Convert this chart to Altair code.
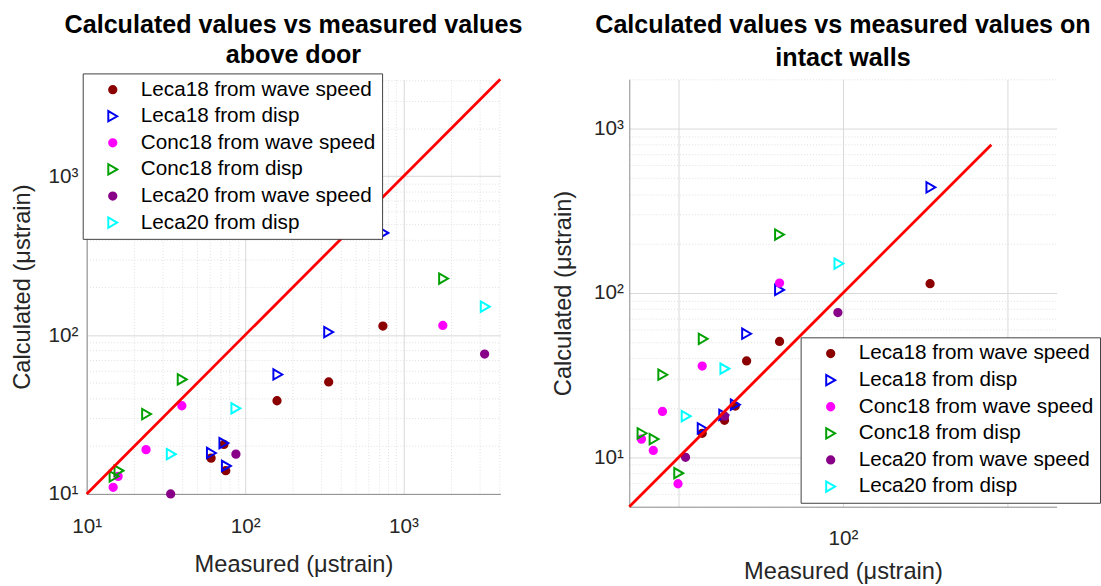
import altair as alt
import pandas as pd

FONT = "Liberation Sans"
TEXT = "#262626"

SERIES = ["Leca18 from wave speed", "Leca18 from disp", "Conc18 from wave speed",
          "Conc18 from disp", "Leca20 from wave speed", "Leca20 from disp"]
STROKES = ["#8B0000", "#0000F0", "#FF00FF", "#00A000", "#880088", "#00FFFF"]
FILLS = ["#8B0000", "transparent", "#FF00FF", "transparent", "#880088", "transparent"]
SHAPES = ["circle", "triangle-right", "circle", "triangle-right", "circle", "triangle-right"]
SIZES = [55, 110, 55, 110, 55, 110]

# Calculated strain (same in both panels)
calc_leca18_wave = [114, 50.7, 38.6, 16.8, 20.5, 14.0]
calc_leca18_disp = [440, 104.5, 56.5, 18.1, 20.9, 15.0]
calc_conc18_wave = [115, 35.9, 19.0, 11.0, 12.9, 6.9]
calc_conc18_disp = [227, 52.6, 31.8, 14.0, 12.9, 8.0]
calc_leca20_wave = [76, 17.8, 10.0]
calc_leca20_disp = [151, 34.6, 17.8]

# Measured strain above door (left panel; last Conc18 points lie below the view)
door_leca18_wave = [741, 337, 159, 61.0, 73.5, 75.5]
door_leca18_disp = [751, 337, 161, 61.3, 73.5, 76.2]
door_conc18_wave = [1770, 39.9, 23.7, 14.7, 15.8]
door_conc18_disp = [1791, 40.1, 23.9, 16.0, 14.9]
door_leca20_wave = [3250, 87.5, 33.9]
door_leca20_disp = [3280, 87.5, 34.2]

# Measured strain on intact walls (right panel)
walls_leca18_wave = [339, 41.1, 25.9, 19.0, 22.1, 13.9]
walls_leca18_disp = [343, 41.1, 25.9, 18.8, 22.1, 13.9]
walls_conc18_wave = [41.1, 13.9, 7.96, 7.0, 5.93, 9.9]
walls_conc18_disp = [41.1, 14.1, 8.0, 5.98, 7.08, 10.0]
walls_leca20_wave = [93.1, 19.0, 11.0]
walls_leca20_disp = [94.5, 19.1, 11.1]

ref_line_door = [10, 4080]
ref_line_walls = [5, 800]

domain_door = [10, 4080]
domain_walls = [5, 2000]

major_ticks = [10, 100, 1000]
minor_ticks = [k * 10 ** e for e in range(0, 4) for k in range(2, 10)]

CALC = [calc_leca18_wave, calc_leca18_disp, calc_conc18_wave,
        calc_conc18_disp, calc_leca20_wave, calc_leca20_disp]


def frame(xs_list):
    rows = []
    for name, xs, ys in zip(SERIES, xs_list, CALC):
        for x, y in zip(xs, ys):
            rows.append({"series": name, "measured": x, "calculated": y})
    return pd.DataFrame(rows)


SUP = {10: "10¹", 100: "10²", 1000: "10³"}
MAJOR_TEST = "indexof([10,100,1000], datum.value) >= 0"


def axis(title, dom, minor, labeled, label_pad, title_pad):
    vals = [v for v in major_ticks + (minor_ticks if minor else []) if dom[0] <= v <= dom[1]]
    expr = " : ".join(f"datum.value == {v} ? '{SUP[v]}'" for v in labeled) + " : ''"
    return alt.Axis(
        title=title, values=vals, labelExpr=expr, labelOverlap=False, labelFlush=False,
        grid=True, ticks=False,
        gridDash={"condition": {"test": MAJOR_TEST, "value": []}, "value": [1, 2]},
        gridColor={"condition": {"test": MAJOR_TEST, "value": "#d8d8d8"}, "value": "#e0e0e0"},
        labelPadding=label_pad, titlePadding=title_pad,
    )


def legend(x, y):
    return alt.Legend(
        title=None, orient="none", legendX=x, legendY=y,
        labelFont=FONT, labelFontSize=21, labelColor="#000000", labelLimit=0,
        symbolStrokeWidth=2, padding=6, rowPadding=5,
        strokeColor="#404040", fillColor="white",
        symbolOffset=14, labelOffset=18,
    )


def panel(df, line_vals, dom, title, xaxis, yaxis, leg, w, h):
    xs = alt.Scale(type="log", domain=dom, nice=False)
    ys = alt.Scale(type="log", domain=dom, nice=False)
    pts = alt.Chart(df).mark_point(opacity=1, strokeWidth=2).encode(
        x=alt.X("measured:Q", scale=xs, axis=xaxis),
        y=alt.Y("calculated:Q", scale=ys, axis=yaxis),
        stroke=alt.Stroke("series:N", scale=alt.Scale(domain=SERIES, range=STROKES), legend=leg),
        fill=alt.Fill("series:N", scale=alt.Scale(domain=SERIES, range=FILLS), legend=leg),
        shape=alt.Shape("series:N", scale=alt.Scale(domain=SERIES, range=SHAPES), legend=leg),
        size=alt.Size("series:N", scale=alt.Scale(type="ordinal", domain=SERIES, range=SIZES),
                      legend=leg),
    )
    line = alt.Chart(pd.DataFrame({"v": line_vals})).mark_line(
        color="#FF0000", strokeWidth=2.8
    ).encode(
        x=alt.X("v:Q", scale=xs, axis=xaxis),
        y=alt.Y("v:Q", scale=ys, axis=yaxis),
    )
    return alt.layer(pts, line).properties(width=w, height=h, title=title)


left = panel(
    frame([door_leca18_wave, door_leca18_disp, door_conc18_wave,
           door_conc18_disp, door_leca20_wave, door_leca20_disp]),
    ref_line_door, domain_door,
    alt.TitleParams(["Calculated values vs measured values", "above door"],
                    lineHeight=31, offset=1),
    axis("Measured (μstrain)", domain_door, True, [10, 100, 1000], 22, 17),
    axis("Calculated (μstrain)", domain_door, True, [10, 100, 1000], 9, 14),
    legend(-4, -6), 420, 421,
)

right = panel(
    frame([walls_leca18_wave, walls_leca18_disp, walls_conc18_wave,
           walls_conc18_disp, walls_leca20_wave, walls_leca20_disp]),
    ref_line_walls, domain_walls,
    alt.TitleParams(["Calculated values vs measured values on", "intact walls"],
                    lineHeight=34, offset=-3),
    axis("Measured (μstrain)", domain_walls, False, [100], 21, 12),
    axis("Calculated (μstrain)", domain_walls, True, [10, 100, 1000], 6, 18),
    legend(174, 262), 434, 434,
)

chart = alt.hconcat(left, right, spacing=29).resolve_scale(
    x="independent", y="independent", stroke="independent",
    fill="independent", shape="independent", size="independent",
).properties(
    padding={"left": 10, "top": 8, "right": 0, "bottom": 0}
).configure_view(stroke=None).configure_axis(
    labelFont=FONT, titleFont=FONT, labelFontSize=21, titleFontSize=24,
    titleFontWeight="normal", labelColor=TEXT, titleColor=TEXT,
    domainColor="#8c8c8c", domainWidth=1,
).configure_title(
    font=FONT, fontSize=25.5, fontWeight="bold", color="#000000", anchor="middle",
)

chart.save("out.html", embed_options={"renderer": "svg", "actions": False})
